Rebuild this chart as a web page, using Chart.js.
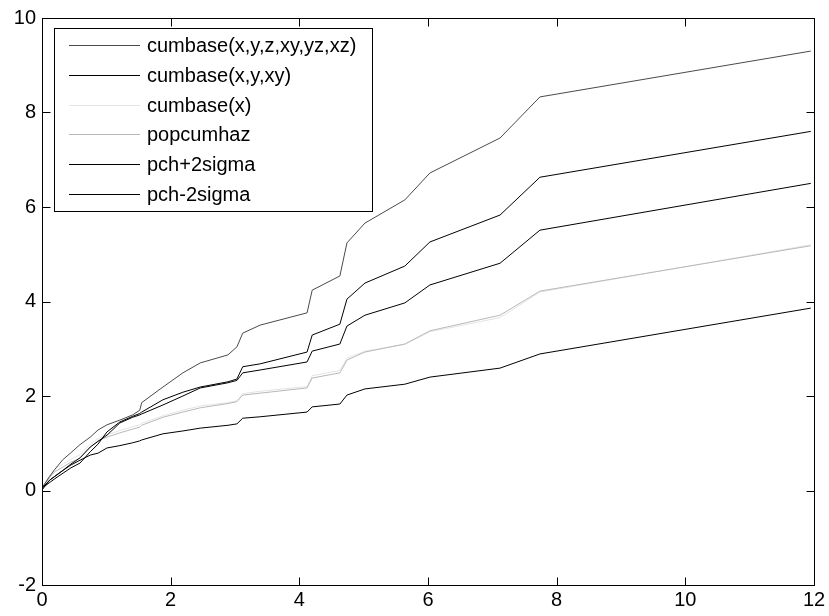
<!DOCTYPE html>
<html>
<head>
<meta charset="utf-8">
<script src="https://cdn.jsdelivr.net/npm/chart.js@4/dist/chart.umd.min.js"></script>
<style>
  html, body { margin: 0; padding: 0; background: #fff; }
  #wrap { width: 829px; height: 616px; }
</style>
</head>
<body>
<div id="wrap"><canvas id="c" width="829" height="616"></canvas></div>
<script>
// ---- data ----
const times = [0, 0.12, 0.2, 0.33, 0.45, 0.59, 0.75, 0.87, 1.01, 1.21, 1.41, 1.52, 1.55, 1.88, 2.19, 2.46, 2.89, 3.03, 3.12, 3.39, 4.12, 4.20, 4.63, 4.74, 5.02, 5.64, 6.03, 7.12, 7.74, 11.95];

const cumbaseFull = [0.06, 0.30, 0.45, 0.66, 0.80, 0.97, 1.13, 1.28, 1.39, 1.49, 1.60, 1.70, 1.86, 2.19, 2.49, 2.70, 2.87, 3.04, 3.33, 3.50, 3.76, 4.24, 4.54, 5.24, 5.66, 6.15, 6.72, 7.46, 8.33, 9.30];
const cumbaseXYXY = [0.05, 0.17, 0.25, 0.37, 0.48, 0.58, 0.82, 0.98, 1.24, 1.45, 1.57, 1.63, 1.66, 1.92, 2.08, 2.19, 2.30, 2.36, 2.62, 2.68, 2.93, 3.29, 3.52, 4.05, 4.39, 4.75, 5.26, 5.83, 6.63, 7.60];
const cumbaseX    = [0.05, 0.32, 0.45, 0.56, 0.66, 0.76, 0.98, 1.10, 1.18, 1.27, 1.35, 1.39, 1.42, 1.58, 1.70, 1.79, 1.86, 1.90, 2.05, 2.10, 2.20, 2.43, 2.54, 2.80, 2.95, 3.09, 3.36, 3.66, 4.20, 5.20];
const popcumhaz   = [0.05, 0.28, 0.40, 0.50, 0.60, 0.68, 0.92, 1.05, 1.13, 1.22, 1.30, 1.34, 1.38, 1.55, 1.66, 1.75, 1.84, 1.88, 2.02, 2.06, 2.17, 2.38, 2.49, 2.76, 2.93, 3.10, 3.38, 3.71, 4.22, 5.18];
const pchPlus     = [0.05, 0.22, 0.30, 0.43, 0.56, 0.69, 0.92, 1.04, 1.17, 1.43, 1.55, 1.60, 1.62, 1.81, 2.00, 2.17, 2.28, 2.33, 2.49, 2.55, 2.72, 2.95, 3.10, 3.48, 3.71, 3.97, 4.35, 4.81, 5.51, 6.50];
const pchMinus    = [0.01, 0.22, 0.30, 0.43, 0.54, 0.64, 0.75, 0.79, 0.90, 0.95, 1.01, 1.05, 1.07, 1.20, 1.26, 1.32, 1.38, 1.41, 1.53, 1.56, 1.66, 1.77, 1.83, 2.02, 2.15, 2.25, 2.40, 2.59, 2.89, 3.86];

const seriesNames = ["cumbase(x,y,z,xy,yz,xz)", "cumbase(x,y,xy)", "cumbase(x)", "popcumhaz", "pch+2sigma", "pch-2sigma"];
const xTicks = [0, 2, 4, 6, 8, 10, 12];
const yTicks = [-2, 0, 2, 4, 6, 8, 10];

// ---- chart ----
const seriesValues = [cumbaseFull, cumbaseXYXY, cumbaseX, popcumhaz, pchPlus, pchMinus];
const seriesColors = ["#4a4a4a", "#000000", "#e4e4e4", "#b8b8b8", "#000000", "#000000"];
const drawOrder = [2, 3, 5, 4, 1, 0];

const datasets = seriesValues.map((vals, i) => ({
  label: seriesNames[i],
  data: times.map((t, k) => ({ x: t, y: vals[k] })),
  borderColor: seriesColors[i],
  backgroundColor: seriesColors[i],
  borderWidth: 1,
  pointRadius: 0,
  tension: 0,
  fill: false,
  order: drawOrder.indexOf(i) * -1
}));

const FONT = "'Liberation Sans', Arial, Helvetica, sans-serif";

const framePlugin = {
  id: 'frame',
  afterDatasetsDraw(chart) {
    const { ctx, chartArea: a, scales } = chart;
    ctx.save();
    ctx.strokeStyle = '#000';
    ctx.lineWidth = 1;
    const L = Math.round(a.left) + 0.5, R = Math.round(a.right) + 0.5;
    const T = Math.round(a.top) + 0.5, B = Math.round(a.bottom) + 0.5;
    ctx.strokeRect(L, T, R - L, B - T);
    const tl = 8;
    ctx.beginPath();
    xTicks.forEach(v => {
      const px = Math.round(scales.x.getPixelForValue(v)) + 0.5;
      ctx.moveTo(px, B); ctx.lineTo(px, B - tl);
      ctx.moveTo(px, T); ctx.lineTo(px, T + tl);
    });
    yTicks.forEach(v => {
      const py = Math.round(scales.y.getPixelForValue(v)) + 0.5;
      ctx.moveTo(L, py); ctx.lineTo(L + tl, py);
      ctx.moveTo(R, py); ctx.lineTo(R - tl, py);
    });
    ctx.stroke();

    // legend box
    const bx = 54.5, by = 28.5, bw = 318, bh = 183;
    ctx.fillStyle = '#fff';
    ctx.fillRect(bx, by, bw, bh);
    ctx.strokeRect(bx, by, bw, bh);
    ctx.font = '20px ' + FONT;
    ctx.textBaseline = 'middle';
    ctx.textAlign = 'left';
    chart.data.datasets.forEach((ds, i) => {
      const y = Math.round(45 + i * 29.8) + 0.5;
      ctx.strokeStyle = ds.borderColor;
      ctx.beginPath();
      ctx.moveTo(69, y); ctx.lineTo(140, y);
      ctx.stroke();
      ctx.fillStyle = '#000';
      ctx.fillText(ds.label, 147, y + 1);
    });
    ctx.restore();
  }
};

new Chart(document.getElementById('c'), {
  type: 'line',
  data: { datasets },
  options: {
    responsive: false,
    animation: false,
    layout: { padding: { top: 18, right: 15, left: 0, bottom: 0 } },
    plugins: { legend: { display: false }, tooltip: { enabled: false }, title: { display: false } },
    scales: {
      x: {
        type: 'linear', min: 0, max: 12,
        afterFit(s) { s.height = 31; },
        afterBuildTicks(s) { s.ticks = xTicks.map(v => ({ value: v })); },
        grid: { display: false, drawTicks: false },
        border: { display: false },
        ticks: { color: '#000', padding: 3, maxRotation: 0, font: { family: FONT, size: 20 } }
      },
      y: {
        type: 'linear', min: -2, max: 10,
        afterFit(s) { s.width = 42; },
        afterBuildTicks(s) { s.ticks = yTicks.map(v => ({ value: v })); },
        grid: { display: false, drawTicks: false },
        border: { display: false },
        ticks: { color: '#000', padding: 6, font: { family: FONT, size: 20 } }
      }
    }
  },
  plugins: [framePlugin]
});
</script>
</body>
</html>
